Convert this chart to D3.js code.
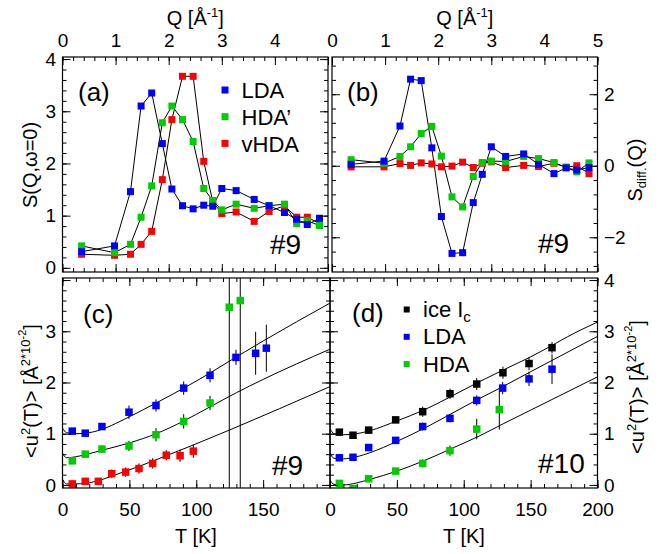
<!DOCTYPE html>
<html><head><meta charset="utf-8">
<script src="https://cdn.jsdelivr.net/npm/d3@7"></script>
<style>
body{margin:0;background:#fff}
text{font-family:"Liberation Sans",Arial,Helvetica,sans-serif;fill:#000}
</style>
</head><body>
<svg id="chart" width="663" height="554"></svg>
<script>
// ---------- DATA ----------
// panels (a),(b): Q grid
const Q = [0.36,0.98,1.28,1.48,1.68,1.88,2.06,2.26,2.46,2.66,2.83,3.00,3.27,3.61,3.89,4.18,4.41,4.61,4.84];
// (a) S(Q,w=0)
const sLDA  = [0.31,0.42,1.46,3.10,3.35,2.38,1.51,1.19,1.13,1.20,1.18,1.52,1.48,1.31,1.19,1.06,0.93,0.83,0.95];
const sHDAp = [0.42,0.29,0.45,0.97,1.57,2.78,3.10,2.84,2.42,1.52,1.29,1.11,1.22,1.14,1.19,1.22,0.85,0.90,0.81];
const sVHDA = [0.26,0.24,0.26,0.45,0.70,1.69,2.84,3.67,3.67,2.04,1.27,1.04,1.07,0.89,1.08,1.19,0.97,0.97,0.85];
// (b) S_diff(Q)
const dLDA  = [0.04,0.13,1.11,2.42,2.38,0.50,-1.42,-2.45,-2.43,-1.03,-0.24,0.53,0.26,0.33,0.04,-0.22,-0.06,-0.12,-0.05];
const dHDAp = [0.17,0.07,0.26,0.53,0.90,1.10,0.27,-0.87,-1.15,-0.30,0.09,0.13,0.12,0.26,0.20,0.09,-0.05,-0.17,0.08];
const dVHDA = [-0.03,-0.03,0.06,0.01,0.08,0.05,-0.03,-0.01,0.10,-0.05,0.07,0.11,-0.05,0.01,-0.02,0.07,-0.04,0.00,-0.22];
// (c) <u^2(T)>  #9
const cT_LDA = [7.3,17,29.5,49.7,69.9,90.6,110.3,129.7,144.4,152.4];
const cU_LDA = [1.05,1.01,1.14,1.42,1.55,1.89,2.14,2.49,2.57,2.67];
const cE_LDA = [0.05,0.05,0.06,0.13,0.12,0.13,0.14,0.15,0.42,0.46];
const cT_HDA = [7.3,17,29.5,49.7,69.9,90.6,110.3,124.7,132.9];
const cU_HDA = [0.47,0.60,0.70,0.76,0.98,1.24,1.60,3.47,3.60];
const cE_HDA = [0.04,0.05,0.07,0.10,0.13,0.14,0.14,6,6];
const cT_VHDA = [7.3,17,26.8,36.8,47.2,57.2,67.4,77.6,87.9,97.8];
const cU_VHDA = [0.02,0.07,0.07,0.22,0.25,0.32,0.42,0.58,0.57,0.66];
const cE_VHDA = [0.03,0.04,0.05,0.08,0.09,0.10,0.10,0.10,0.12,0.13];
// (c) fit curves
const cFitT_LDA = [0,3,10,20,30,43,50,70,90,110,130,150,200];
const cFitU_LDA = [1.11,1.02,1.00,1.02,1.09,1.24,1.33,1.60,1.88,2.18,2.50,2.81,3.55];
const cFitT_HDA = [0,3,10,20,30,50,70,90,110,130,150,200];
const cFitU_HDA = [0.62,0.53,0.55,0.61,0.68,0.82,1.00,1.24,1.52,1.80,2.06,2.65];
const cFitT_VHDA = [0,3,10,17,29,43,57,77.6,97.8,124.7,200];
const cFitU_VHDA = [0.11,0.02,0.02,0.03,0.10,0.23,0.36,0.57,0.78,1.07,1.92];
// (d) <u^2(T)>  #10
const dT_Ic  = [7,17.2,28.9,49.1,69.3,89.7,109.7,129.3,148.8,166];
const dU_Ic  = [1.03,0.97,1.07,1.27,1.43,1.78,1.97,2.19,2.37,2.68];
const dE_Ic  = [0.04,0.04,0.05,0.06,0.10,0.10,0.12,0.12,0.13,0.11];
const dT_LDA2 = [7,17.2,28.9,49.1,69.3,89.7,109.7,129.1,148.8,166];
const dU_LDA2 = [0.53,0.54,0.73,0.87,1.14,1.30,1.65,1.89,2.07,2.26];
const dE_LDA2 = [0.03,0.03,0.04,0.06,0.08,0.08,0.10,0.12,0.14,0.29];
const dT_HDA2 = [7,17.2,28.9,49.1,69.3,89.7,109.7,126.6];
const dU_HDA2 = [0.03,-0.07,0.12,0.27,0.42,0.67,1.09,1.47];
const dE_HDA2 = [0.03,0.03,0.04,0.06,0.08,0.10,0.20,0.39];
// (d) fit curves
const dFitT_Ic = [0,3,10,20,30,50,70,90,112,130,150,187,200];
const dFitU_Ic = [1.10,1.00,0.98,1.00,1.06,1.25,1.46,1.72,2.02,2.25,2.50,3.02,3.18];
const dFitT_LDA2 = [0,3,10,20,30,50,70,90,112,130,150,200];
const dFitU_LDA2 = [0.62,0.52,0.51,0.55,0.63,0.85,1.10,1.38,1.69,1.93,2.21,2.90];
const dFitT_HDA2 = [0,3,10,20,30,50,70,90,112,130,150,200];
const dFitU_HDA2 = [0.10,0.01,0.00,0.04,0.11,0.27,0.47,0.70,0.96,1.20,1.46,2.11];

// ---------- STYLE ----------
const BLUE="#0000ff", GREEN="#00cc00", RED="#ff0000", BLACK="#000000";
const FONT_TICK=19;

const svg = d3.select("#chart");
const defs = svg.append("defs");

const panels = {
  a:{x:d3.scaleLinear([0,5],[62.5,328]),   y:d3.scaleLinear([-0.08,4.04],[272,57])},
  b:{x:d3.scaleLinear([0,5],[332,597.5]),  y:d3.scaleLinear([-2.97,3.04],[272,57])},
  c:{x:d3.scaleLinear([0,200],[62.5,330]), y:d3.scaleLinear([-0.06,4.04],[488,278])},
  d:{x:d3.scaleLinear([0,200],[330,597.5]),y:d3.scaleLinear([-0.06,4.04],[488,278])}
};

Object.entries(panels).forEach(([k,p])=>{
  const [x0,x1]=p.x.range(), [y1,y0]=p.y.range();
  p.g = svg.append("g");
  defs.append("clipPath").attr("id","clip"+k).append("rect")
    .attr("x",x0).attr("y",y0).attr("width",x1-x0).attr("height",y1-y0);
  p.plot = p.g.append("g").attr("clip-path",`url(#clip${k})`);
  p.frame = [x0,x1,y0,y1];
});

function axes(p, o){
  const [x0,x1,y0,y1]=p.frame;
  const g=p.g.append("g");
  const sides = [
    ["top",   d3.axisTop,    `translate(0,${y0})`, p.x, o.xMajor, o.xMinor, o.topLabels],
    ["bottom",d3.axisBottom, `translate(0,${y1})`, p.x, o.xMajor, o.xMinor, o.bottomLabels],
    ["left",  d3.axisLeft,   `translate(${x0},0)`, p.y, o.yMajor, o.yMinor, o.leftLabels],
    ["right", d3.axisRight,  `translate(${x1},0)`, p.y, o.yMajor, o.yMinor, o.rightLabels]
  ];
  sides.forEach(([side,fn,tr,sc,maj,min,labels])=>{
    const pad = side==="bottom"?15:(side==="top"?10:6.5);
    const minAx = fn(sc).tickValues(min).tickSizeInner(-4).tickSizeOuter(0).tickFormat("");
    g.append("g").attr("transform",tr).call(minAx).call(s=>s.select(".domain").remove());
    const majAx = fn(sc).tickValues(maj).tickSizeInner(-8).tickSizeOuter(0).tickPadding(pad)
      .tickFormat(v => labels && labels.includes(v) ? d3.format("d")(v) : "");
    const ga = g.append("g").attr("transform",tr).call(majAx).call(s=>s.select(".domain").remove());
    ga.selectAll("text").attr("font-size",FONT_TICK).attr("font-family",null).style("fill","#000");
  });
  g.selectAll("line").attr("stroke","#000").attr("stroke-width",1);
  p.g.append("rect").attr("x",x0).attr("y",y0).attr("width",x1-x0).attr("height",y1-y0)
    .attr("fill","none").attr("stroke","#000").attr("stroke-width",1.2);
}

const r = (a,b,s)=>d3.range(Math.round(a/s),Math.round(b/s)+1).map(i=>+(i*s).toFixed(4));

axes(panels.a,{xMajor:r(0,5,1),xMinor:r(0,5,0.2),yMajor:r(0,4,1),yMinor:r(0,4,0.2),
  topLabels:[0,1,2,3,4],leftLabels:[0,1,2,3,4]});
axes(panels.b,{xMajor:r(0,5,1),xMinor:r(0,5,0.2),yMajor:[-2,0,2],yMinor:r(-2.8,2.8,0.4),
  topLabels:[0,1,2,3,4,5],rightLabels:[-2,0,2]});
axes(panels.c,{xMajor:r(0,200,50),xMinor:r(0,200,10),yMajor:r(0,4,1),yMinor:r(0,4,0.2),
  bottomLabels:[0,50,100,150],leftLabels:[0,1,2,3]});
axes(panels.d,{xMajor:r(0,200,50),xMinor:r(0,200,10),yMajor:r(0,4,1),yMinor:r(0,4,0.2),
  bottomLabels:[0,50,100,150,200],rightLabels:[0,1,2,3,4]});

// ---------- series drawing ----------
function connected(p, xs, ys, color, size){
  const pts = xs.map((x,i)=>[x,ys[i]]);
  p.plot.append("path").datum(pts)
    .attr("d", d3.line().x(d=>p.x(d[0])).y(d=>p.y(d[1])))
    .attr("fill","none").attr("stroke","#000").attr("stroke-width",1);
  return pts;
}
function squares(p, pts, color, size){
  p.plot.append("g").selectAll("rect").data(pts).join("rect")
    .attr("x",d=>p.x(d[0])-size/2).attr("y",d=>p.y(d[1])-size/2)
    .attr("width",size).attr("height",size).attr("fill",color);
}
function fit(p, xs, ys){
  const pts = xs.map((x,i)=>[x,ys[i]]);
  p.plot.append("path").datum(pts)
    .attr("d", d3.line().x(d=>p.x(d[0])).y(d=>p.y(d[1])).curve(d3.curveMonotoneX))
    .attr("fill","none").attr("stroke","#000").attr("stroke-width",1);
}
function errbars(p, xs, ys, es){
  p.plot.append("g").selectAll("line").data(xs.map((x,i)=>[x,ys[i],es[i]])).join("line")
    .attr("x1",d=>p.x(d[0])).attr("x2",d=>p.x(d[0]))
    .attr("y1",d=>p.y(d[1]-d[2])).attr("y2",d=>p.y(d[1]+d[2]))
    .attr("stroke","#000").attr("stroke-width",1);
}

// (a)
{
  const p=panels.a;
  const s3=connected(p,Q,sVHDA), s2=connected(p,Q,sHDAp), s1=connected(p,Q,sLDA);
  squares(p,s3,RED,7); squares(p,s2,GREEN,7); squares(p,s1,BLUE,7);
}
// (b)
{
  const p=panels.b;
  const s3=connected(p,Q,dVHDA), s2=connected(p,Q,dHDAp), s1=connected(p,Q,dLDA);
  squares(p,s3,RED,7); squares(p,s2,GREEN,7); squares(p,s1,BLUE,7);
}
// (c)
{
  const p=panels.c;
  fit(p,cFitT_LDA,cFitU_LDA); fit(p,cFitT_HDA,cFitU_HDA); fit(p,cFitT_VHDA,cFitU_VHDA);
  errbars(p,cT_LDA,cU_LDA,cE_LDA); errbars(p,cT_HDA,cU_HDA,cE_HDA); errbars(p,cT_VHDA,cU_VHDA,cE_VHDA);
  squares(p,cT_VHDA.map((t,i)=>[t,cU_VHDA[i]]),RED,7.5);
  squares(p,cT_HDA.map((t,i)=>[t,cU_HDA[i]]),GREEN,7.5);
  squares(p,cT_LDA.map((t,i)=>[t,cU_LDA[i]]),BLUE,7.5);
}
// (d)
{
  const p=panels.d;
  fit(p,dFitT_Ic,dFitU_Ic); fit(p,dFitT_LDA2,dFitU_LDA2); fit(p,dFitT_HDA2,dFitU_HDA2);
  errbars(p,dT_Ic,dU_Ic,dE_Ic); errbars(p,dT_LDA2,dU_LDA2,dE_LDA2); errbars(p,dT_HDA2,dU_HDA2,dE_HDA2);
  squares(p,dT_HDA2.map((t,i)=>[t,dU_HDA2[i]]),GREEN,7.5);
  squares(p,dT_LDA2.map((t,i)=>[t,dU_LDA2[i]]),BLUE,7.5);
  squares(p,dT_Ic.map((t,i)=>[t,dU_Ic[i]]),BLACK,7.5);
}

// ---------- legends ----------
const legA=[["LDA",BLUE],["HDA’",GREEN],["vHDA",RED]];
legA.forEach(([t,c],i)=>{
  svg.append("rect").attr("x",225-3.5).attr("y",90+i*26.7-3.5).attr("width",7).attr("height",7).attr("fill",c);
  svg.append("text").attr("x",241.5).attr("y",98+i*26.8).attr("font-size",22).text(t);
});
const legD=[["ice I",BLACK,"c"],["LDA",BLUE],["HDA",GREEN]];
legD.forEach(([t,c,sub],i)=>{
  svg.append("rect").attr("x",406.7-3).attr("y",309.5+i*27.3-3).attr("width",6).attr("height",6).attr("fill",c);
  const tx=svg.append("text").attr("x",423).attr("y",317+i*27.4).attr("font-size",22).text(t);
  if(sub) tx.append("tspan").attr("font-size",15).attr("dy",5).text(sub);
});

// ---------- panel labels ----------
const lab=(x,y,s,t)=>svg.append("text").attr("x",x).attr("y",y).attr("font-size",s).text(t);
lab(78,101,26,"(a)"); lab(347,101,26,"(b)"); lab(83,323,26,"(c)"); lab(352,322,26,"(d)");
lab(270,254,28,"#9"); lab(538,253,28,"#9"); lab(272,475,28,"#9"); lab(538,473,28,"#10");

// ---------- axis titles ----------
function qTitle(cx){
  const t=svg.append("text").attr("x",cx).attr("y",25).attr("font-size",20).attr("text-anchor","middle");
  t.append("tspan").text("Q [Å");
  t.append("tspan").attr("font-size",13).attr("dy",-8).text("-1");
  t.append("tspan").attr("dy",8).text("]");
}
qTitle(195.3); qTitle(464.8);
svg.append("text").attr("x",196).attr("y",543).attr("font-size",20).attr("text-anchor","middle").text("T [K]");
svg.append("text").attr("x",464).attr("y",543).attr("font-size",20).attr("text-anchor","middle").text("T [K]");

svg.append("text").attr("transform","translate(37,165) rotate(-90)").attr("font-size",20)
  .attr("text-anchor","middle").text("S(Q,ω=0)");
{
  const t=svg.append("text").attr("transform","translate(641.5,170) rotate(-90)").attr("font-size",20).attr("text-anchor","middle");
  t.append("tspan").text("S");
  t.append("tspan").attr("font-size",13).attr("dy",4).text("diff.");
  t.append("tspan").attr("dy",-4).text("(Q)");
}
function uTitle(x,y){
  const t=svg.append("text").attr("transform",`translate(${x},${y}) rotate(-90)`).attr("font-size",20).attr("text-anchor","middle");
  t.append("tspan").text("<u");
  t.append("tspan").attr("font-size",13).attr("dy",-8).text("2");
  t.append("tspan").attr("dy",8).text("(T)> [Å");
  t.append("tspan").attr("font-size",13).attr("dy",-8).text("2*10");
  t.append("tspan").attr("font-size",11).attr("dy",-4).text("-2");
  t.append("tspan").attr("dy",12).text("]");
}
uTitle(37.5,391); uTitle(643.5,387);
</script>
</body></html>
